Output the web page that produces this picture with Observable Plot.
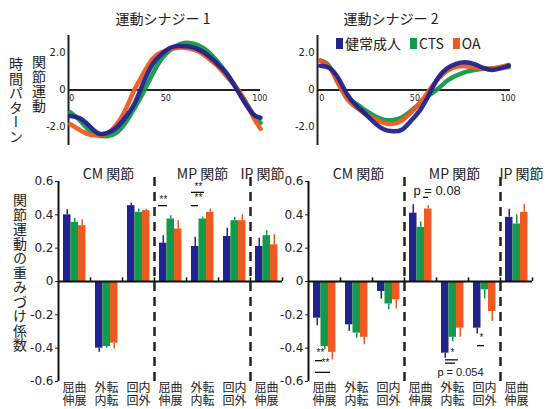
<!DOCTYPE html>
<html><head><meta charset="utf-8">
<script src="https://cdn.jsdelivr.net/npm/d3@7"></script>
<script src="https://cdn.jsdelivr.net/npm/@observablehq/plot@0.6"></script>
<style>
body{margin:0;background:#fff;}
#root{position:relative;width:550px;height:409px;overflow:hidden;font-family:"Noto Sans CJK JP","Noto Sans",sans-serif;color:#222;}
.abs{position:absolute;}
.vert{position:absolute;writing-mode:vertical-rl;font-size:14px;line-height:1;letter-spacing:0.5px;color:#222;}
.title{position:absolute;font-size:14px;line-height:14px;transform:translateX(-50%);white-space:nowrap;}
.legend{position:absolute;display:flex;align-items:center;font-size:14px;line-height:14px;white-space:nowrap;}
.legend .sw{display:inline-block;width:7px;height:11px;margin-right:2px;}
.legend .it{display:inline-flex;align-items:center;margin-right:9px;}
</style></head><body><div id="root"></div>
<script>
// ---------- data ----------
const groups = ["健常成人", "CTS", "OA"];
const colors = ["#22228c", "#12994a", "#ee5a20"];

// time patterns (x = % of movement)
const timeX = [0,5,10,15,20,25,30,35,40,45,50,55,60,65,70,75,80,85,90,95,100,104];
const syn1Healthy = [-1.4,-1.52,-1.9,-2.33,-2.33,-2.05,-1.5,-0.75,0.4,1.4,1.95,2.3,2.38,2.35,2.2,1.9,1.45,0.95,0.2,-0.62,-1.3,-1.5];
const syn1CTS     = [-1.2,-1.62,-2.15,-2.45,-2.5,-2.33,-1.8,-1.0,-0.12,0.87,1.7,2.2,2.48,2.55,2.42,2.1,1.6,0.97,0.25,-0.5,-1.31,-1.78];
const syn1OA      = [-1.85,-2.15,-2.4,-2.44,-2.35,-1.9,-1.1,0.0,0.9,1.7,2.05,2.22,2.3,2.25,2.1,1.75,1.35,0.8,0.24,-0.5,-1.45,-2.1];
const syn2Healthy = [1.32,1.2,0.64,-0.25,-0.85,-1.3,-1.78,-2.12,-2.23,-2.15,-1.67,-1.1,-0.25,0.65,1.17,1.42,1.5,1.4,1.2,1.09,1.18,1.32];
const syn2CTS     = [1.6,1.3,0.35,-0.38,-0.75,-1.1,-1.4,-1.6,-1.62,-1.48,-1.13,-0.72,-0.3,0.07,0.5,0.78,0.97,1.08,1.15,1.16,1.2,1.24];
const syn2OA      = [1.6,1.25,0.35,-0.5,-0.95,-1.3,-1.55,-1.78,-1.83,-1.65,-1.22,-0.7,-0.03,0.6,1.04,1.25,1.29,1.22,1.16,1.17,1.26,1.36];
const timeYTicks = [-2, 0, 2];
const timeXTicks = [0, 50, 100];

// joint weights
const categories = ["CM-屈曲伸展","CM-外転内転","CM-回内回外","MP-屈曲伸展","MP-外転内転","MP-回内回外","IP-屈曲伸展"];
const tickLabels = ["屈曲\n伸展","外転\n内転","回内\n回外","屈曲\n伸展","外転\n内転","回内\n回外","屈曲\n伸展"];
const panelTitles = ["CM 関節","MP 関節","IP 関節"];
const panelCats = ["CM-外転内転","MP-外転内転","IP-屈曲伸展"];
const dividerCats = ["MP-屈曲伸展","IP-屈曲伸展"];
const weightTicks = [-0.6,-0.4,-0.2,0,0.2,0.4,0.6];

const w1Healthy = [0.40,-0.40,0.455,0.23,0.21,0.27,0.21];
const w1CTS     = [0.355,-0.39,0.415,0.375,0.375,0.365,0.275];
const w1OA      = [0.335,-0.37,0.425,0.315,0.415,0.365,0.22];
const e1Healthy = [0.03,0.024,0.014,0.045,0.055,0.05,0.05];
const e1CTS     = [0.025,0.01,0.02,0.02,0.012,0.02,0.03];
const e1OA      = [0.035,0.035,0.008,0.05,0.02,0.035,0.06];

const w2Healthy = [-0.22,-0.26,-0.06,0.41,-0.43,-0.28,0.385];
const w2CTS     = [-0.39,-0.31,-0.135,0.325,-0.335,-0.05,0.345];
const w2OA      = [-0.425,-0.335,-0.11,0.435,-0.28,-0.18,0.415];
const e2Healthy = [0.045,0.04,0.045,0.05,0.03,0.035,0.048];
const e2CTS     = [0.02,0.03,0.035,0.032,0.026,0.055,0.055];
const e2OA      = [0.045,0.045,0.055,0.02,0.055,0.06,0.048];

// significance annotations (category, y value, text)
const sig1Text  = [["MP-屈曲伸展",0.49,"**"],["MP-外転内転",0.57,"**"],["MP-外転内転",0.50,"**"]];
const sig1Lines = [["MP-屈曲伸展",0.455],["MP-外転内転",0.535],["MP-外転内転",0.455]];
const sig2Text  = [["CM-屈曲伸展",-0.43,"**"],["CM-屈曲伸展",-0.49,"**"],["MP-外転内転",-0.43,"*"],["MP-回内回外",-0.335,"*"],["MP-屈曲伸展",0.545,"p = 0.08"],["MP-外転内転",-0.545,"p = 0.054"]];
const sig2Lines = [["CM-屈曲伸展",-0.475],["CM-屈曲伸展",-0.545],["MP-外転内転",-0.47],["MP-外転内転",-0.49],["MP-回内回外",-0.385],["MP-屈曲伸展",0.505]];

// ---------- layout ----------
const root = document.getElementById("root");
const NARROW = "'DejaVu Sans',sans-serif";
const CJK = "'Noto Sans CJK JP','Noto Sans',sans-serif";

function place(node, left, top) {
  const d = document.createElement("div");
  d.className = "abs"; d.style.left = left + "px"; d.style.top = top + "px";
  d.appendChild(node); root.appendChild(d);
}

function timePlot(series, xDomain, width, mL, mR) {
  const order = [1, 2, 0];
  const marks = [
    Plot.ruleY([0], {stroke: "#222", strokeWidth: 2}),
    Plot.ruleX([xDomain[0]], {stroke: "#222", strokeWidth: 2}),
    Plot.axisY({ticks: timeYTicks, tickFormat: d => d === 0 ? "0" : d.toFixed(1), tickSize: 0, tickPadding: 3, fontSize: 10, label: null}),
    Plot.text(timeXTicks, {x: d => d, y: 0, text: d => String(d), textAnchor: "start", dy: 8, dx: -1, fontSize: 8})
  ];
  for (const k of order) {
    marks.push(Plot.line(timeX.map((x, i) => ({x, y: series[k][i]})), {x: "x", y: "y", stroke: colors[k], strokeWidth: 4.5, curve: "natural", strokeOpacity: 0.95}));
  }
  return Plot.plot({
    width, height: 150, marginLeft: mL, marginRight: mR, marginTop: 35, marginBottom: 5,
    x: {domain: xDomain, axis: null}, y: {domain: [-3, 2.95], axis: null},
    style: {background: "transparent", overflow: "visible", fontFamily: NARROW, color: "#222"},
    marks
  });
}

const barInsets = [[5, 19.5], [12.5, 12], [20, 4.5]];
const barDx = [-7.25, 0.25, 7.75];

function weightPlot(vals, errs, sigText, sigTextLayout, sigLines, sigLineLayout, width, mL, mR, titleDx) {
  const marks = [];
  // dividers
  marks.push(Plot.ruleX(dividerCats, {x: d => d, dx: -16, y1: -0.6, y2: 0.64, stroke: "#222", strokeWidth: 2.5, strokeDasharray: "9,6"}));
  // bars + error bars
  vals.forEach((arr, k) => {
    const rows = categories.map((c, i) => ({c, v: arr[i], e: errs[k][i]}));
    marks.push(Plot.barY(rows, {x: "c", y: "v", fill: colors[k], insetLeft: barInsets[k][0], insetRight: barInsets[k][1]}));
    marks.push(Plot.ruleX(rows, {x: "c", y1: "v", y2: d => d.v + Math.sign(d.v) * d.e, stroke: colors[k], strokeWidth: 1.5, dx: barDx[k]}));
  });
  // axes lines
  marks.push(Plot.ruleY([0], {stroke: "#111", strokeWidth: 2}));
  marks.push(Plot.ruleX([categories[0]], {x: d => d, dx: -16, y1: -0.6, y2: 0.6, stroke: "#111", strokeWidth: 2}));
  marks.push(Plot.ruleX(categories.slice(1), {x: d => d, dx: -16, y1: 0, y2: 0.022, stroke: "#111", strokeWidth: 1.5}));
  marks.push(Plot.ruleX([categories[categories.length - 1]], {x: d => d, dx: 16, y1: 0, y2: 0.022, stroke: "#111", strokeWidth: 1.5}));
  marks.push(Plot.axisY({ticks: weightTicks, tickFormat: d => d === 0 ? "0" : String(d), tickSize: 3, tickPadding: 2, fontSize: 12, label: null}));
  // x labels
  marks.push(Plot.text(categories, {x: d => d, text: (d, i) => tickLabels[i], frameAnchor: "bottom", lineAnchor: "top", dy: 1, fontSize: 12, lineHeight: 1.12, fontFamily: CJK}));
  // panel titles
  panelTitles.forEach((t, i) => {
    marks.push(Plot.text([t], {x: () => panelCats[i], text: d => d, frameAnchor: "top", dy: -12, dx: titleDx[i], fontSize: 14, fontFamily: CJK}));
  });
  // significance
  sigText.forEach((s, i) => {
    const L = sigTextLayout[i];
    marks.push(Plot.text([s], {x: d => d[0], y: d => d[1], text: d => d[2], dx: L.dx, textAnchor: L.anchor || "middle", fontSize: L.size, fontFamily: "'Liberation Sans',Arial,sans-serif"}));
  });
  sigLines.forEach((s, i) => {
    const L = sigLineLayout[i];
    marks.push(Plot.tickY([s], {x: d => d[0], y: d => d[1], insetLeft: L[0], insetRight: L[1], stroke: "#111", strokeWidth: 1.3}));
  });
  return Plot.plot({
    width, height: 259, marginLeft: mL, marginRight: mR, marginTop: 31, marginBottom: 28,
    x: {type: "band", domain: categories, padding: 0, round: false, axis: null},
    y: {domain: [-0.6, 0.6], axis: null},
    style: {background: "transparent", overflow: "visible", fontFamily: NARROW, color: "#222"},
    marks
  });
}

// top charts
place(timePlot([syn1Healthy, syn1CTS, syn1OA], [-1, 104], 275, 68, 15), 0, 0);
place(timePlot([syn2Healthy, syn2CTS, syn2OA], [-1.5, 105], 275, 42, 40), 275, 0);

// bottom charts
place(weightPlot([w1Healthy, w1CTS, w1OA], [e1Healthy, e1CTS, e1OA],
  sig1Text, [{dx: -7, size: 10}, {dx: -4, size: 10}, {dx: -4, size: 10}],
  sig1Lines, [[4, 19], [5, 14], [5, 20]],
  290, 58, 8, [2, 0, -4]), 0, 150);
place(weightPlot([w2Healthy, w2CTS, w2OA], [e2Healthy, e2CTS, e2OA],
  sig2Text, [{dx: -4, size: 10}, {dx: 1, size: 10}, {dx: 0, size: 10}, {dx: -3, size: 10}, {dx: -7, size: 13, anchor: "start"}, {dx: 8, size: 11}],
  sig2Lines, [[7, 18], [7, 10], [9, 10], [9, 13], [9, 16], [19, 8]],
  260, 18, 18, [2, 2, 5]), 290, 150);

// titles
function addDiv(cls, text, left, top) {
  const d = document.createElement("div");
  d.className = cls; d.textContent = text;
  d.style.left = left + "px"; d.style.top = top + "px";
  root.appendChild(d); return d;
}
addDiv("title", "運動シナジー 1", 163, 11);
addDiv("title", "運動シナジー 2", 391, 11);
addDiv("vert", "時間パターン", 9, 57);
addDiv("vert", "関節運動", 32, 55);
addDiv("vert", "関節運動の重みづけ係数", 13, 193);

// legend
const lg = document.createElement("div");
lg.className = "legend"; lg.style.left = "336px"; lg.style.top = "36px";
groups.forEach((g, k) => {
  const it = document.createElement("span"); it.className = "it";
  const sw = document.createElement("span"); sw.className = "sw"; sw.style.background = colors[k];
  const tx = document.createElement("span"); tx.textContent = g;
  it.appendChild(sw); it.appendChild(tx); lg.appendChild(it);
});
root.appendChild(lg);
</script></body></html>
